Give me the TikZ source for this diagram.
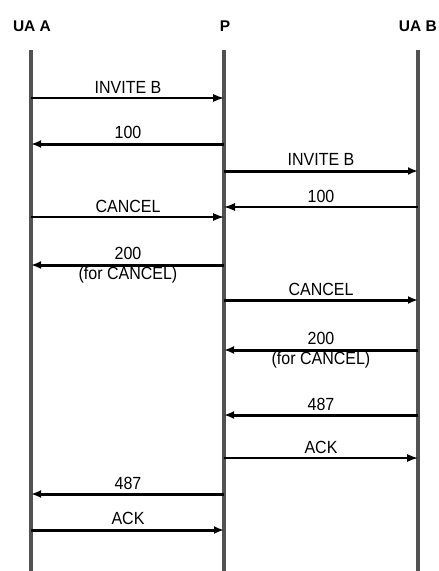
\documentclass[tikz,border=0pt]{standalone}
\usepackage{fontspec}
\setmainfont{Liberation Sans}
\usetikzlibrary{arrows.meta}
\begin{document}
\begin{tikzpicture}[x=1pt,y=-1pt,
  lifeline/.style={line width=3.5pt,draw=black!68},
  head/.style={font=\bfseries\fontsize{15.5}{17}\selectfont,inner sep=0pt},
  lbl/.style={font=\fontsize{16}{18}\selectfont,inner sep=0pt,yscale=1.1},
  thinmsg/.style={line width=1.3pt,-{Latex[length=11pt,width=8pt]}},
  thickmsg/.style={line width=3pt,-{Latex[length=10pt,width=8pt]}}]
\useasboundingbox[fill=white] (0,0) rectangle (439,571);
% headers
\node[head] (ha) at (32,26) {UA A};
\node[head] (hp) at (225,26) {P};
\node[head,anchor=east] (hb) at (437,26) {UA B};
% lifelines
\coordinate (at) at (31,50); \coordinate (ab) at (31,571);
\coordinate (pt) at (224,50); \coordinate (pb) at (224,571);
\coordinate (bt) at (418,50); \coordinate (bb) at (418,571);
\draw[lifeline] (at) -- (ab);
\draw[lifeline] (pt) -- (pb);
\draw[lifeline] (bt) -- (bb);
% message end points
\foreach \n/\y in {1/98,2/144,5/217,6/265,11/494,12/530}{
  \coordinate (a\n) at (31,\y); \coordinate (p\n) at (224,\y);}
\foreach \n/\y in {3/171,4/207,7/300,8/350,9/415,10/458}{
  \coordinate (p\n) at (224,\y); \coordinate (b\n) at (418,\y);}
% messages
\draw[thinmsg] (a1) -- (p1);
\node[lbl] (l1) at (128,87) {INVITE B};
\draw[thickmsg] (p2) -- (a2);
\node[lbl] (l2) at (128,132) {100};
\draw[thickmsg] (p3) -- (b3);
\node[lbl] (l3) at (321,159) {INVITE B};
\draw[thinmsg] (b4) -- (p4);
\node[lbl] (l4) at (321,196) {100};
\draw[thinmsg] (a5) -- (p5);
\node[lbl] (l5) at (128,206) {CANCEL};
\draw[thickmsg] (p6) -- (a6);
\node[lbl] (l6) at (128,253) {200};
\node[lbl] (l6b) at (128,275) {(for CANCEL)};
\draw[thickmsg] (p7) -- (b7);
\node[lbl] (l7) at (321,289) {CANCEL};
\draw[thickmsg] (b8) -- (p8);
\node[lbl] (l8) at (321,338) {200};
\node[lbl] (l8b) at (321,360) {(for CANCEL)};
\draw[thickmsg] (b9) -- (p9);
\node[lbl] (l9) at (321,404) {487};
\draw[thinmsg] (p10) -- (b10);
\node[lbl] (l10) at (321,447) {ACK};
\draw[thickmsg] (p11) -- (a11);
\node[lbl] (l11) at (128,483) {487};
\draw[thickmsg] (a12) -- (p12);
\node[lbl] (l12) at (128,518) {ACK};
\end{tikzpicture}
\end{document}
